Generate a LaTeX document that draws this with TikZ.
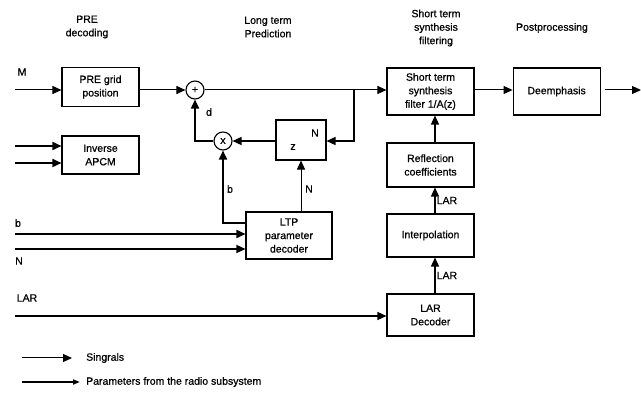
\documentclass[tikz,border=0pt]{standalone}
\usepackage{fontspec}
\setmainfont[FakeBold=0.7]{Liberation Sans}
\usetikzlibrary{arrows.meta, positioning, calc}

\begin{document}
\begin{tikzpicture}[x=1pt, y=-1pt, font=\fontsize{10.5}{13.5}\selectfont, node distance=28pt]
    \tikzstyle{block} = [rectangle, draw, line width=1.1pt, align=center,
                         inner sep=0pt, minimum width=87pt]
    \tikzstyle{junction} = [circle, draw, line width=1.1pt, minimum size=18pt, inner sep=0pt]
    \tikzstyle{sig} = [line width=1pt, -{Triangle[length=9pt, width=8pt]}]
    \tikzstyle{par} = [line width=1.7pt, -{Triangle[length=9pt, width=8pt]}]
    \tikzstyle{lbl} = [inner sep=0pt, align=center]

    \useasboundingbox (0,0) rectangle (641,393);

    % column headers
    \node [lbl] (hpre) at (87,27) {PRE\\decoding};
    \node [lbl] (hltp) at (268,27) {Long term\\Prediction};
    \node [lbl] (hsts) at (436,28) {Short term\\synthesis\\filtering};
    \node [lbl] (hpost) at (552,28) {Postprocessing};

    % blocks
    \node [block, minimum width=77pt, minimum height=39pt] (pre) at (100.5,87) {PRE grid\\position};
    \node [block, minimum width=77pt, minimum height=38pt] (apcm) at (100.5,155) {Inverse\\APCM};
    \node [junction] (sum) at (195,90) {+};
    \node [junction] (mult) at (223,141) {x};
    \node [block, minimum width=50pt, minimum height=40pt] (zbox) at (301,140) {};
    \node [lbl] (zz) at ($(zbox.center)+(-8,7)$) {z};
    \node [lbl] (zn) at ($(zbox.center)+(14,-7)$) {N};
    \node [block, minimum width=86pt, minimum height=47pt] (ltp) at (289,235.5) {LTP\\parameter\\decoder};

    \node [block, minimum height=47pt] (filter) at (430.5,91.5) {Short term\\synthesis\\filter 1/A(z)};
    \node [block, minimum height=47pt, right=38pt of filter] (deemph) {Deemphasis};
    \node [block, minimum height=44pt] (refl) at (430.5,165) {Reflection\\coefficients};
    \node [block, minimum height=43pt] (interp) at (430.5,235.5) {Interpolation};
    \node [block, minimum height=42pt] (lardec) at (430.5,315) {LAR\\Decoder};

    % free ends
    \coordinate (min) at (15,90);
    \coordinate (ain) at (15,146);
    \coordinate (bin) at (15,163);
    \coordinate (pin) at (15,234);
    \coordinate (nin) at (15,249);
    \coordinate (lin) at (15,316);
    \coordinate (tap) at (354,90);
    \coordinate (out) at (641,90);

    % signal paths
    \draw [sig] (min) -- (pre.west |- min);
    \draw [sig] (pre.east |- sum) -- (sum.west);
    \draw [sig] (sum.east) -- (filter.west |- sum);
    \draw [sig, line width=1.4pt] (tap) |- (zbox.east |- mult);
    \draw [sig, line width=1.4pt] (zbox.west |- mult) -- (mult.east);
    \draw [sig, line width=1.7pt] (mult.west) -| (sum.south);
    \draw [sig, line width=1.7pt] ([yshift=12.5pt]ltp.west) -| (mult.south);
    \draw [sig] (ltp.north -| zbox.south) -- (zbox.south);
    \draw [sig] (filter.east |- sum) -- (deemph.west |- sum);
    \draw [sig, shorten <=4pt] (deemph.east |- sum) -- (out);
    \draw [sig, line width=1.4pt] ([xshift=4.5pt]refl.north) -- ([xshift=4.5pt]filter.south);
    \draw [sig, line width=1.4pt] ([xshift=4.5pt]interp.north) -- node[right=1pt, lbl] {LAR} ([xshift=4.5pt]refl.south);
    \draw [sig, line width=1.4pt] ([xshift=4.5pt]lardec.north) -- node[right=1pt, lbl] {LAR} ([xshift=4.5pt]interp.south);

    % parameter inputs
    \draw [par] (ain) -- (ain -| apcm.west);
    \draw [par] (bin) -- (bin -| apcm.west);
    \draw [par] (pin) -- (pin -| ltp.west);
    \draw [par, line width=1.3pt] (nin) -- (nin -| ltp.west);
    \draw [sig, line width=1.3pt] (lin) -- (lin -| lardec.west);

    % labels
    \node [lbl] (lm) at (22,72) {M};
    \node [lbl] (ld) at (209,112) {d};
    \node [lbl] (lb) at (230,189) {b};
    \node [lbl] (ln) at (309,189) {N};
    \node [lbl] (lbin) at (18,223) {b};
    \node [lbl] (lnin) at (19,261) {N};
    \node [lbl] (llar) at (27,298) {LAR};

    % legend
    \coordinate (sa) at (22,358);
    \coordinate (sb) at (72,358);
    \coordinate (pa) at (22,382);
    \coordinate (pb) at (80,382);
    \draw [sig] (sa) -- (sb);
    \draw [par, -{Triangle[length=7pt, width=5pt]}] (pa) -- (pb);
    \node [lbl, anchor=west] (lsig) at (86,358) {Singrals};
    \node [lbl, anchor=west] (lpar) at (86,382) {Parameters from the radio subsystem};
\end{tikzpicture}
\end{document}
